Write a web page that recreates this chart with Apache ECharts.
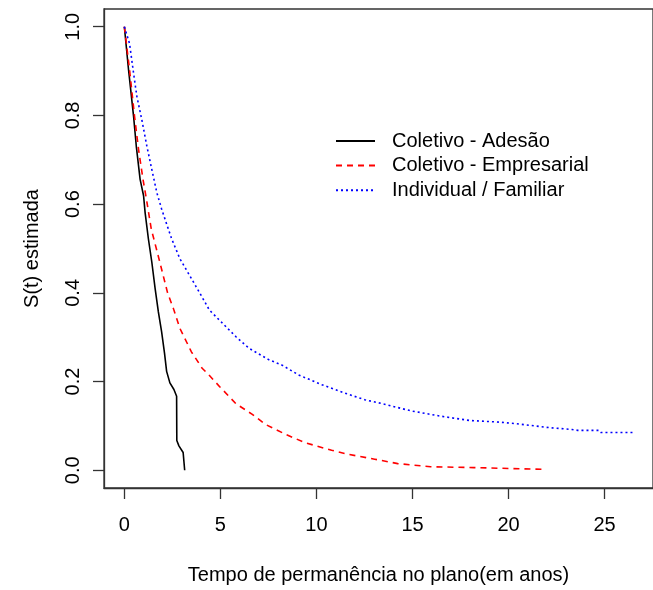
<!DOCTYPE html>
<html>
<head>
<meta charset="utf-8">
<script src="https://cdn.jsdelivr.net/npm/echarts@6/dist/echarts.min.js"></script>
<style>
  html, body { margin: 0; padding: 0; background: #fff; }
  #main { width: 653px; height: 590px; }
</style>
</head>
<body>
<div id="main"></div>
<script>
// curvas de sobrevivência estimadas
var grupos = ["Coletivo - Adesão", "Coletivo - Empresarial", "Individual / Familiar"];

var adesaoT = [0, 0.05, 0.22, 0.48, 0.62, 0.82, 1.0, 1.08, 1.25, 1.43, 1.60, 1.77, 1.94, 2.09, 2.20, 2.37, 2.58, 2.72, 2.73, 2.84, 3.06, 3.13, 3.14];
var adesaoS = [1, 1.0, 0.902, 0.798, 0.731, 0.656, 0.619, 0.581, 0.522, 0.469, 0.410, 0.357, 0.312, 0.264, 0.223, 0.197, 0.182, 0.167, 0.067, 0.055, 0.040, 0.040, 0];

var empresT = [0, 0.05, 0.27, 0.53, 0.74, 0.97, 1.15, 1.40, 1.80, 2.25, 2.55, 2.89, 3.49, 4.05, 4.40, 4.95, 5.81, 6.66, 7.36, 8.39, 9.42, 10.79, 11.65, 13.03, 14.23, 15.94, 18.2, 18.3, 21.87];
var empresS = [1, 1.0, 0.903, 0.798, 0.723, 0.656, 0.611, 0.544, 0.477, 0.400, 0.365, 0.320, 0.267, 0.230, 0.215, 0.189, 0.150, 0.126, 0.103, 0.081, 0.062, 0.045, 0.036, 0.025, 0.015, 0.008, 0.006, 0.002, 0.002];

var indivT = [0, 0.05, 0.27, 0.48, 0.65, 0.91, 1.17, 1.43, 1.69, 1.94, 2.11, 2.46, 2.89, 3.40, 3.92, 4.43, 5.12, 5.81, 6.49, 7.53, 8.21, 9.07, 10.27, 11.48, 12.51, 13.54, 14.91, 16.46, 18.01, 19.38, 20.41, 22.13, 23.3, 23.6, 24.7, 24.8, 26.46];
var indivS = [1, 1.0, 0.962, 0.895, 0.843, 0.790, 0.731, 0.678, 0.626, 0.589, 0.567, 0.522, 0.477, 0.439, 0.400, 0.361, 0.331, 0.301, 0.275, 0.249, 0.237, 0.215, 0.193, 0.174, 0.159, 0.149, 0.134, 0.122, 0.112, 0.109, 0.105, 0.096, 0.092, 0.090, 0.090, 0.085, 0.085];

var xTicks = [0, 5, 10, 15, 20, 25];
var yTicks = [0, 0.2, 0.4, 0.6, 0.8, 1.0];

function pares(t, s) {
    var out = [];
    for (var i = 0; i < t.length; i++) out.push([t[i], s[i]]);
    return out;
}

var fonte = "'Liberation Sans', Arial, sans-serif";
var myChart = echarts.init(document.getElementById('main'));

option = {
    animation: false,
    backgroundColor: '#fff',
    grid: {
        left: 104, top: 9, width: 554, height: 482,
        show: true, borderColor: '#333', borderWidth: 1.3
    },
    legend: {
        orient: 'vertical',
        left: 330, top: 126,
        itemWidth: 39, itemHeight: 20, itemGap: 4.6,
        data: grupos,
        itemStyle: { opacity: 0 },
        textStyle: { fontFamily: fonte, fontSize: 20, color: '#000', padding: [0, 0, 0, 12] }
    },
    xAxis: {
        type: 'value',
        min: -1.06, max: 27.52,
        name: 'Tempo de permanência no plano(em anos)',
        nameLocation: 'middle', nameGap: 77,
        nameTextStyle: { fontFamily: fonte, fontSize: 20, color: '#000' },
        axisLine: { show: true, onZero: false, lineStyle: { color: '#333', width: 1.3 } },
        axisTick: { show: true, length: 11, customValues: xTicks, lineStyle: { color: '#333', width: 1.3 } },
        axisLabel: { customValues: xTicks, margin: 27, fontFamily: fonte, fontSize: 20, color: '#000' },
        splitLine: { show: false }
    },
    yAxis: {
        type: 'value',
        min: -0.04, max: 1.04,
        name: 'S(t) estimada',
        nameLocation: 'middle', nameGap: 62, nameRotate: 90,
        nameTextStyle: { fontFamily: fonte, fontSize: 20, color: '#000' },
        axisLine: { show: true, onZero: false, lineStyle: { color: '#333', width: 1.3 } },
        axisTick: { show: true, length: 11, customValues: yTicks, lineStyle: { color: '#333', width: 1.3 } },
        axisLabel: {
            customValues: yTicks, margin: 21, rotate: 90,
            fontFamily: fonte, fontSize: 20, color: '#000',
            formatter: function (v) { return v.toFixed(1); }
        },
        splitLine: { show: false }
    },
    series: [
        {
            name: grupos[0], type: 'line', symbol: 'none',
            data: pares(adesaoT, adesaoS),
            lineStyle: { color: '#000', width: 1.6, type: 'solid' },
            itemStyle: { color: '#000' }
        },
        {
            name: grupos[1], type: 'line', symbol: 'none',
            data: pares(empresT, empresS),
            lineStyle: { color: '#ff0000', width: 1.6, type: [6, 5] },
            itemStyle: { color: '#ff0000' }
        },
        {
            name: grupos[2], type: 'line', symbol: 'none',
            data: pares(indivT, indivS),
            lineStyle: { color: '#0000ff', width: 1.6, type: [2, 3] },
            itemStyle: { color: '#0000ff' }
        }
    ]
};

myChart.setOption(option);
</script>
</body>
</html>
